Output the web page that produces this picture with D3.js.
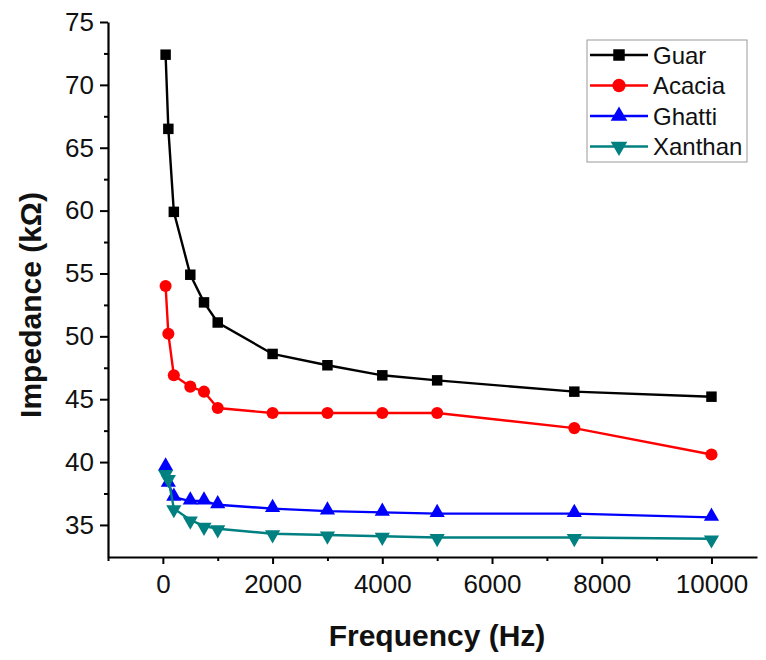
<!DOCTYPE html>
<html>
<head>
<meta charset="UTF-8">
<script src="https://d3js.org/d3.v7.min.js"></script>
<style>
  body { margin: 0; background: #fff; font-family: Arial, "Liberation Sans", sans-serif; }
</style>
</head>
<body>
<div id="chart"></div>
<script>
const freq = [50, 100, 200, 500, 750, 1000, 2000, 3000, 4000, 5000, 7500, 10000];
const guar    = [72.4, 66.5, 59.9, 54.9, 52.7, 51.1, 48.6, 47.7, 46.9, 46.5, 45.6, 45.2];
const acacia  = [54.0, 50.2, 46.9, 46.0, 45.6, 44.3, 43.9, 43.9, 43.9, 43.9, 42.7, 40.6];
const ghatti  = [39.6, 38.3, 37.2, 36.9, 36.9, 36.6, 36.3, 36.1, 36.0, 35.9, 35.9, 35.6];
const xanthan = [39.1, 38.7, 36.3, 35.4, 34.9, 34.7, 34.3, 34.2, 34.1, 34.0, 34.0, 33.9];
const seriesNames = ["Guar", "Acacia", "Ghatti", "Xanthan"];
const xTicks = [0, 2000, 4000, 6000, 8000, 10000];
const yTicks = [35, 40, 45, 50, 55, 60, 65, 70, 75];

const series = [
  {name: seriesNames[0], values: guar, color: "#000000", sym: d3.symbolSquare, size: 110},
  {name: seriesNames[1], values: acacia, color: "#ff0000", sym: d3.symbolCircle, size: 115},
  {name: seriesNames[2], values: ghatti, color: "#0000ff", sym: d3.symbolTriangle, size: 100, rot: 0},
  {name: seriesNames[3], values: xanthan, color: "#008080", sym: d3.symbolTriangle, size: 100, rot: 180}
];

const W = 766, H = 660;
const margin = {left: 108, top: 22, right: 9, bottom: 103};
const w = W - margin.left - margin.right, h = H - margin.top - margin.bottom;

const svg = d3.select("#chart").append("svg").attr("width", W).attr("height", H);
const g = svg.append("g").attr("transform", `translate(${margin.left},${margin.top})`);

const x = d3.scaleLinear().domain([-1000, 10830]).range([0, w]);
const y = d3.scaleLinear().domain([32.45, 75]).range([h, 0]);

// minor ticks
g.append("g").attr("transform", `translate(0,${h})`)
  .call(d3.axisBottom(x).tickValues(d3.range(-1000, 10001, 2000)).tickSize(4).tickFormat(""))
  .call(s => s.select(".domain").remove())
  .selectAll("line").attr("stroke-width", 2);
g.append("g")
  .call(d3.axisLeft(y).tickValues(d3.range(37.5, 75, 5)).tickSize(4).tickFormat(""))
  .call(s => s.select(".domain").remove())
  .selectAll("line").attr("stroke-width", 2);

const xAxis = g.append("g").attr("transform", `translate(0,${h})`)
  .call(d3.axisBottom(x).tickValues(xTicks).tickFormat(d3.format("d")).tickSize(7).tickSizeOuter(0).tickPadding(11));
const yAxis = g.append("g")
  .call(d3.axisLeft(y).tickValues(yTicks).tickSize(8).tickSizeOuter(0).tickPadding(6));
[xAxis, yAxis].forEach(a => {
  a.select(".domain").attr("stroke-width", 2.2);
  a.selectAll(".tick line").attr("stroke-width", 2);
  a.selectAll("text").attr("font-size", 26).attr("fill", "#111").attr("font-family", "Arial, Liberation Sans, sans-serif");
});

const line = d3.line().x((d, i) => x(freq[i])).y(d => y(d));

series.forEach(s => {
  g.append("path").datum(s.values)
    .attr("d", line).attr("fill", "none")
    .attr("stroke", s.color).attr("stroke-width", 2.4);
  g.selectAll(null).data(s.values).enter().append("path")
    .attr("d", d3.symbol().type(s.sym).size(s.size))
    .attr("transform", (d, i) => `translate(${x(freq[i])},${y(d) + (s.rot === 180 ? 1 : (s.rot === 0 ? -1 : 0))}) rotate(${s.rot || 0})`)
    .attr("fill", s.color);
});

// axis titles
svg.append("text").attr("x", 437).attr("y", 646)
  .attr("text-anchor", "middle").attr("font-size", 30).attr("font-weight", "bold")
  .attr("fill", "#111").text("Frequency (Hz)");
svg.append("text").attr("transform", `translate(41,305) rotate(-90)`)
  .attr("text-anchor", "middle").attr("font-size", 30).attr("font-weight", "bold")
  .attr("fill", "#111").text("Impedance (kΩ)");

// legend
const lg = svg.append("g").attr("transform", "translate(587,40)");
lg.append("rect").attr("width", 160).attr("height", 122)
  .attr("fill", "#fff").attr("stroke", "#999").attr("stroke-width", 1);
series.forEach((s, i) => {
  const yy = 15 + i * 30.5;
  lg.append("line").attr("x1", 3).attr("x2", 61).attr("y1", yy).attr("y2", yy)
    .attr("stroke", s.color).attr("stroke-width", 2.4);
  lg.append("path").attr("d", d3.symbol().type(s.sym).size(s.size * 1.2))
    .attr("transform", `translate(32,${yy}) rotate(${s.rot || 0})`).attr("fill", s.color);
  lg.append("text").attr("x", 66).attr("y", yy + 8.5).attr("font-size", 24)
    .attr("fill", "#111").text(s.name);
});
</script>
</body>
</html>
